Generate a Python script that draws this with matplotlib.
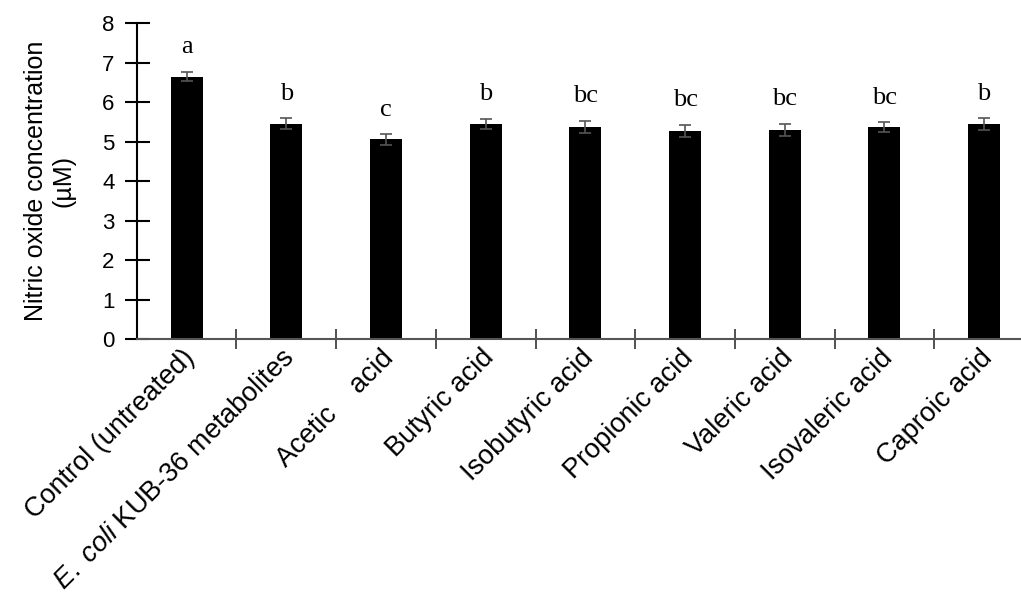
import matplotlib
matplotlib.use("Agg")
import matplotlib.pyplot as plt
import matplotlib.transforms as mtransforms
import numpy as np

plt.rcParams['font.family'] = ['Liberation Sans', 'DejaVu Sans']
plt.rcParams['mathtext.fontset'] = 'custom'
plt.rcParams['mathtext.it'] = 'Liberation Sans:italic'
plt.rcParams['mathtext.rm'] = 'Liberation Sans'

categories = ["Control (untreated)", r"$\it{E.\ coli}$ KUB-36 metabolites",
              "Acetic    acid", "Butyric acid", "Isobutyric acid",
              "Propionic acid", "Valeric acid", "Isovaleric acid", "Caproic acid"]
values = [6.65, 5.46, 5.06, 5.45, 5.38, 5.28, 5.30, 5.37, 5.45]
errors = [0.12, 0.13, 0.13, 0.13, 0.15, 0.15, 0.16, 0.13, 0.15]
letters = ["a", "b", "c", "b", "bc", "bc", "bc", "bc", "b"]

fig = plt.figure(figsize=(10.21, 5.97), dpi=100)
ax = fig.add_axes([0.134, 0.4317, 0.866, 0.5293])

x = np.arange(len(categories))
ax.bar(x, values, width=0.32, color='black', zorder=2)
ax.errorbar(x, values, yerr=errors, fmt='none', ecolor='#555555',
            elinewidth=1.2, capsize=4, capthick=1.2, zorder=3)
for xi, v, e, t in zip(x, values, errors, letters):
    ax.text(xi, v + e + 0.62, t, ha='center', va='center',
            family='Liberation Serif', fontsize=19)

ax.set_xlim(-0.5, 8.37)
ax.set_ylim(0, 8)
ax.set_yticks(range(9))
ax.tick_params(axis='y', direction='inout', length=18, width=1.5,
               labelsize=16, pad=7)
ax.set_xticks(x)
ax.set_xticklabels(categories, rotation=45, ha='right',
                   rotation_mode='anchor', fontsize=19.5)
ax.tick_params(axis='x', which='major', length=0, pad=4)
ax.set_xticks(x[:-1] + 0.5, minor=True)
ax.tick_params(axis='x', which='minor', direction='inout', length=14,
               width=1.2, color='#333333')

# nudge the rotated labels a little to the left
offset = mtransforms.ScaledTranslation(-5 / 100, 0, fig.dpi_scale_trans)
for lbl in ax.get_xticklabels():
    lbl.set_transform(lbl.get_transform() + offset)

for s in ['top', 'right']:
    ax.spines[s].set_visible(False)
ax.spines['left'].set_linewidth(1.5)
ax.spines['bottom'].set_color('#555555')
ax.spines['bottom'].set_linewidth(1.5)

ax.set_ylabel("Nitric oxide concentration\n(µM)", fontsize=18, labelpad=19)

fig.savefig("out.png", dpi=100)
